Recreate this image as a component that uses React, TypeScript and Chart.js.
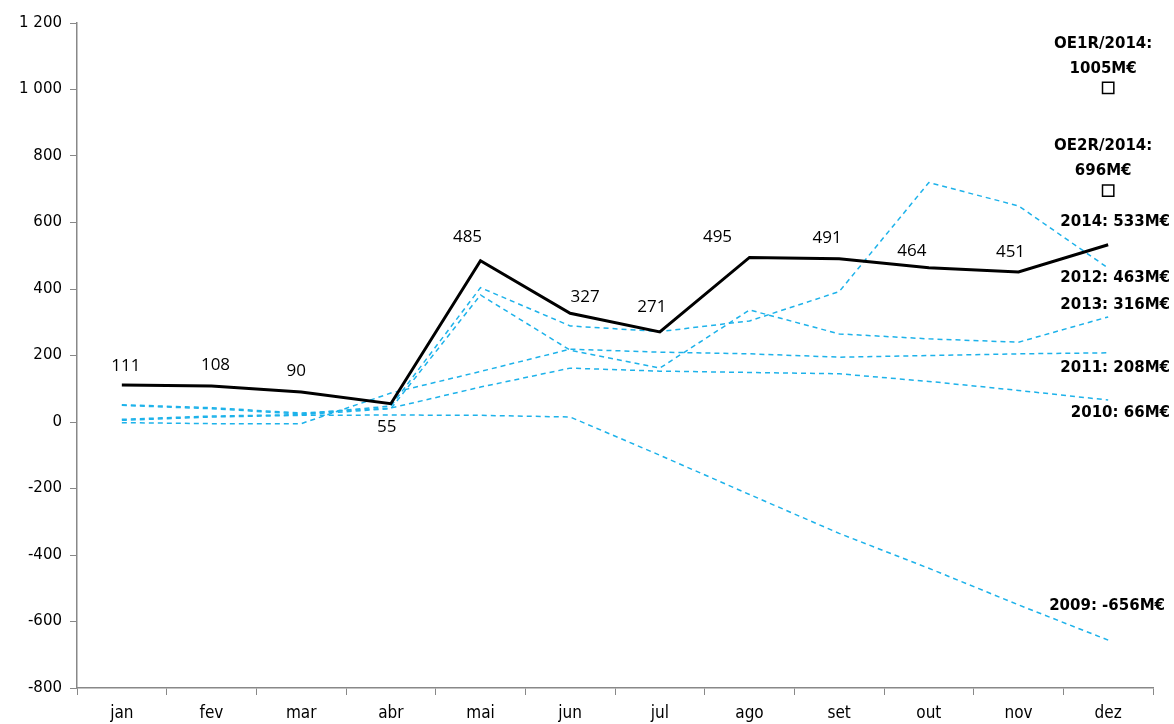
import React, { useEffect, useRef } from 'react';
import { Chart, registerables } from 'chart.js';

Chart.register(...registerables);

const months = ['jan', 'fev', 'mar', 'abr', 'mai', 'jun', 'jul', 'ago', 'set', 'out', 'nov', 'dez'];
const yTicks = [-800, -600, -400, -200, 0, 200, 400, 600, 800, 1000, 1200];

const s2014 = [111, 108, 90, 55, 485, 327, 271, 495, 491, 464, 451, 533];
const s2013 = [8, 18, 22, 40, 382, 216, 162, 337, 265, 250, 240, 316];
const s2012 = [50, 40, 24, 48, 404, 289, 272, 304, 392, 720, 650, 463];
const s2011 = [-2, -5, -5, 87, 152, 219, 210, 205, 195, 200, 205, 208];
const s2010 = [52, 43, 27, 42, 105, 162, 153, 149, 145, 122, 95, 66];
const s2009 = [5, 15, 20, 21, 20, 15, -100, -218, -335, -440, -550, -656];
const oe1r = [null, null, null, null, null, null, null, null, null, null, null, 1005];
const oe2r = [null, null, null, null, null, null, null, null, null, null, null, 696];

const endLabels = ['2014: 533M€', '2013: 316M€', '2012: 463M€', '2011: 208M€', '2010: 66M€', '2009: -656M€'];
const oeLabels = [['OE1R/2014:', '1005M€'], ['OE2R/2014:', '696M€']];

// label placement offsets (px) relative to the point the library computes
const valueLabelOffsets = [
  [4, -19], [4, -21], [-5, -21], [-4, 23], [-13, -24], [15, -16],
  [-8, -25], [-32, -20], [-12, -21], [-17, -17], [-8, -20], [0, 0],
];
const endLabelDy = [-23, -12, 10, 15, 13, -34];
const endLabelDx = [17, 17, 17, 17, 17, 12];

const BLUE = '#1DB2EA';

function fmt(v: number) {
  const a = Math.abs(v);
  const s = a >= 1000 ? Math.floor(a / 1000) + ' ' + String(a % 1000).padStart(3, '0') : String(a);
  return (v < 0 ? '-' : '') + s;
}

const labelPlugin = {
  id: 'labels',
  afterDatasetsDraw(chart: any) {
    const ctx = chart.ctx;
    const area = chart.chartArea;
    ctx.save();
    ctx.fillStyle = '#000';
    ctx.textBaseline = 'middle';
    const m14 = chart.getDatasetMeta(0);
    ctx.font = '17px "Open Sans", "Noto Sans", sans-serif';
    ctx.textAlign = 'center';
    m14.data.forEach((pt: any, i: number) => {
      if (i === s2014.length - 1) return;
      const [dx, dy] = valueLabelOffsets[i];
      ctx.fillText(String(s2014[i]), pt.x + dx, pt.y + dy);
    });
    ctx.font = 'bold 15px "DejaVu Sans", sans-serif';
    ctx.textAlign = 'right';
    endLabels.forEach((txt, k) => {
      const meta = chart.getDatasetMeta(k);
      const pt = meta.data[meta.data.length - 1];
      ctx.fillText(txt, area.right + endLabelDx[k], pt.y + endLabelDy[k]);
    });
    ctx.textAlign = 'center';
    oeLabels.forEach((lines, k) => {
      const meta = chart.getDatasetMeta(6 + k);
      const pt = meta.data[meta.data.length - 1];
      ctx.fillText(lines[0], pt.x - 5, pt.y - 44);
      ctx.fillText(lines[1], pt.x - 5, pt.y - 19);
    });
    ctx.restore();
  },
};

export default function App() {
  const ref = useRef<HTMLCanvasElement>(null);
  useEffect(() => {
    if (!ref.current) return;
    const dashed = (data: number[]) => ({
      data,
      borderColor: BLUE,
      borderWidth: 1.5,
      borderDash: [5, 4],
      pointRadius: 0,
      fill: false,
      tension: 0,
      order: 5,
    });
    const square = (data: (number | null)[]) => ({
      data,
      showLine: false,
      pointStyle: 'rect',
      pointRadius: 8,
      pointBackgroundColor: '#fff',
      pointBorderColor: '#000',
      pointBorderWidth: 1.5,
      borderColor: '#000',
      backgroundColor: '#fff',
      order: 0,
    });
    const chart = new Chart(ref.current, {
      type: 'line',
      data: {
        labels: months,
        datasets: [
          { data: s2014, borderColor: '#000', borderWidth: 3, pointRadius: 0, fill: false, tension: 0, order: 1 } as any,
          dashed(s2013),
          dashed(s2012),
          dashed(s2011),
          dashed(s2010),
          dashed(s2009),
          square(oe1r),
          square(oe2r),
        ],
      },
      options: {
        responsive: false,
        animation: false,
        layout: { padding: { top: 23, right: 21, left: 0, bottom: 0 } },
        plugins: { legend: { display: false }, tooltip: { enabled: false } },
        scales: {
          x: {
            type: 'category',
            offset: true,
            grid: { offset: true, drawOnChartArea: false, drawTicks: true, tickLength: 7, color: '#888' },
            border: { color: '#888', width: 1.5 },
            ticks: {
              color: '#000',
              padding: 8,
              font: { family: '"DejaVu Sans Condensed", "Liberation Sans Narrow", "Noto Sans", sans-serif', size: 17 },
              maxRotation: 0,
            },
            afterFit: (s: any) => { s.height = 36; },
          },
          y: {
            min: -800,
            max: 1200,
            afterBuildTicks: (s: any) => { s.ticks = yTicks.map((v) => ({ value: v })); },
            grid: { drawOnChartArea: false, drawTicks: true, tickLength: 7, color: '#888' },
            border: { color: '#888', width: 1.5 },
            ticks: {
              color: '#000',
              padding: 8,
              font: { family: '"DejaVu Sans", sans-serif', size: 15 },
              callback: (v: any) => fmt(Number(v)),
            },
            afterFit: (s: any) => { s.width = 77; },
          },
        },
      },
      plugins: [labelPlugin],
    } as any);
    return () => chart.destroy();
  }, []);
  return (
    <div style={{ position: 'absolute', left: 0, top: 0, width: 1174, height: 724, background: '#fff' }}>
      <canvas ref={ref} width={1174} height={724} style={{ display: 'block', width: 1174, height: 724 }} />
    </div>
  );
}
